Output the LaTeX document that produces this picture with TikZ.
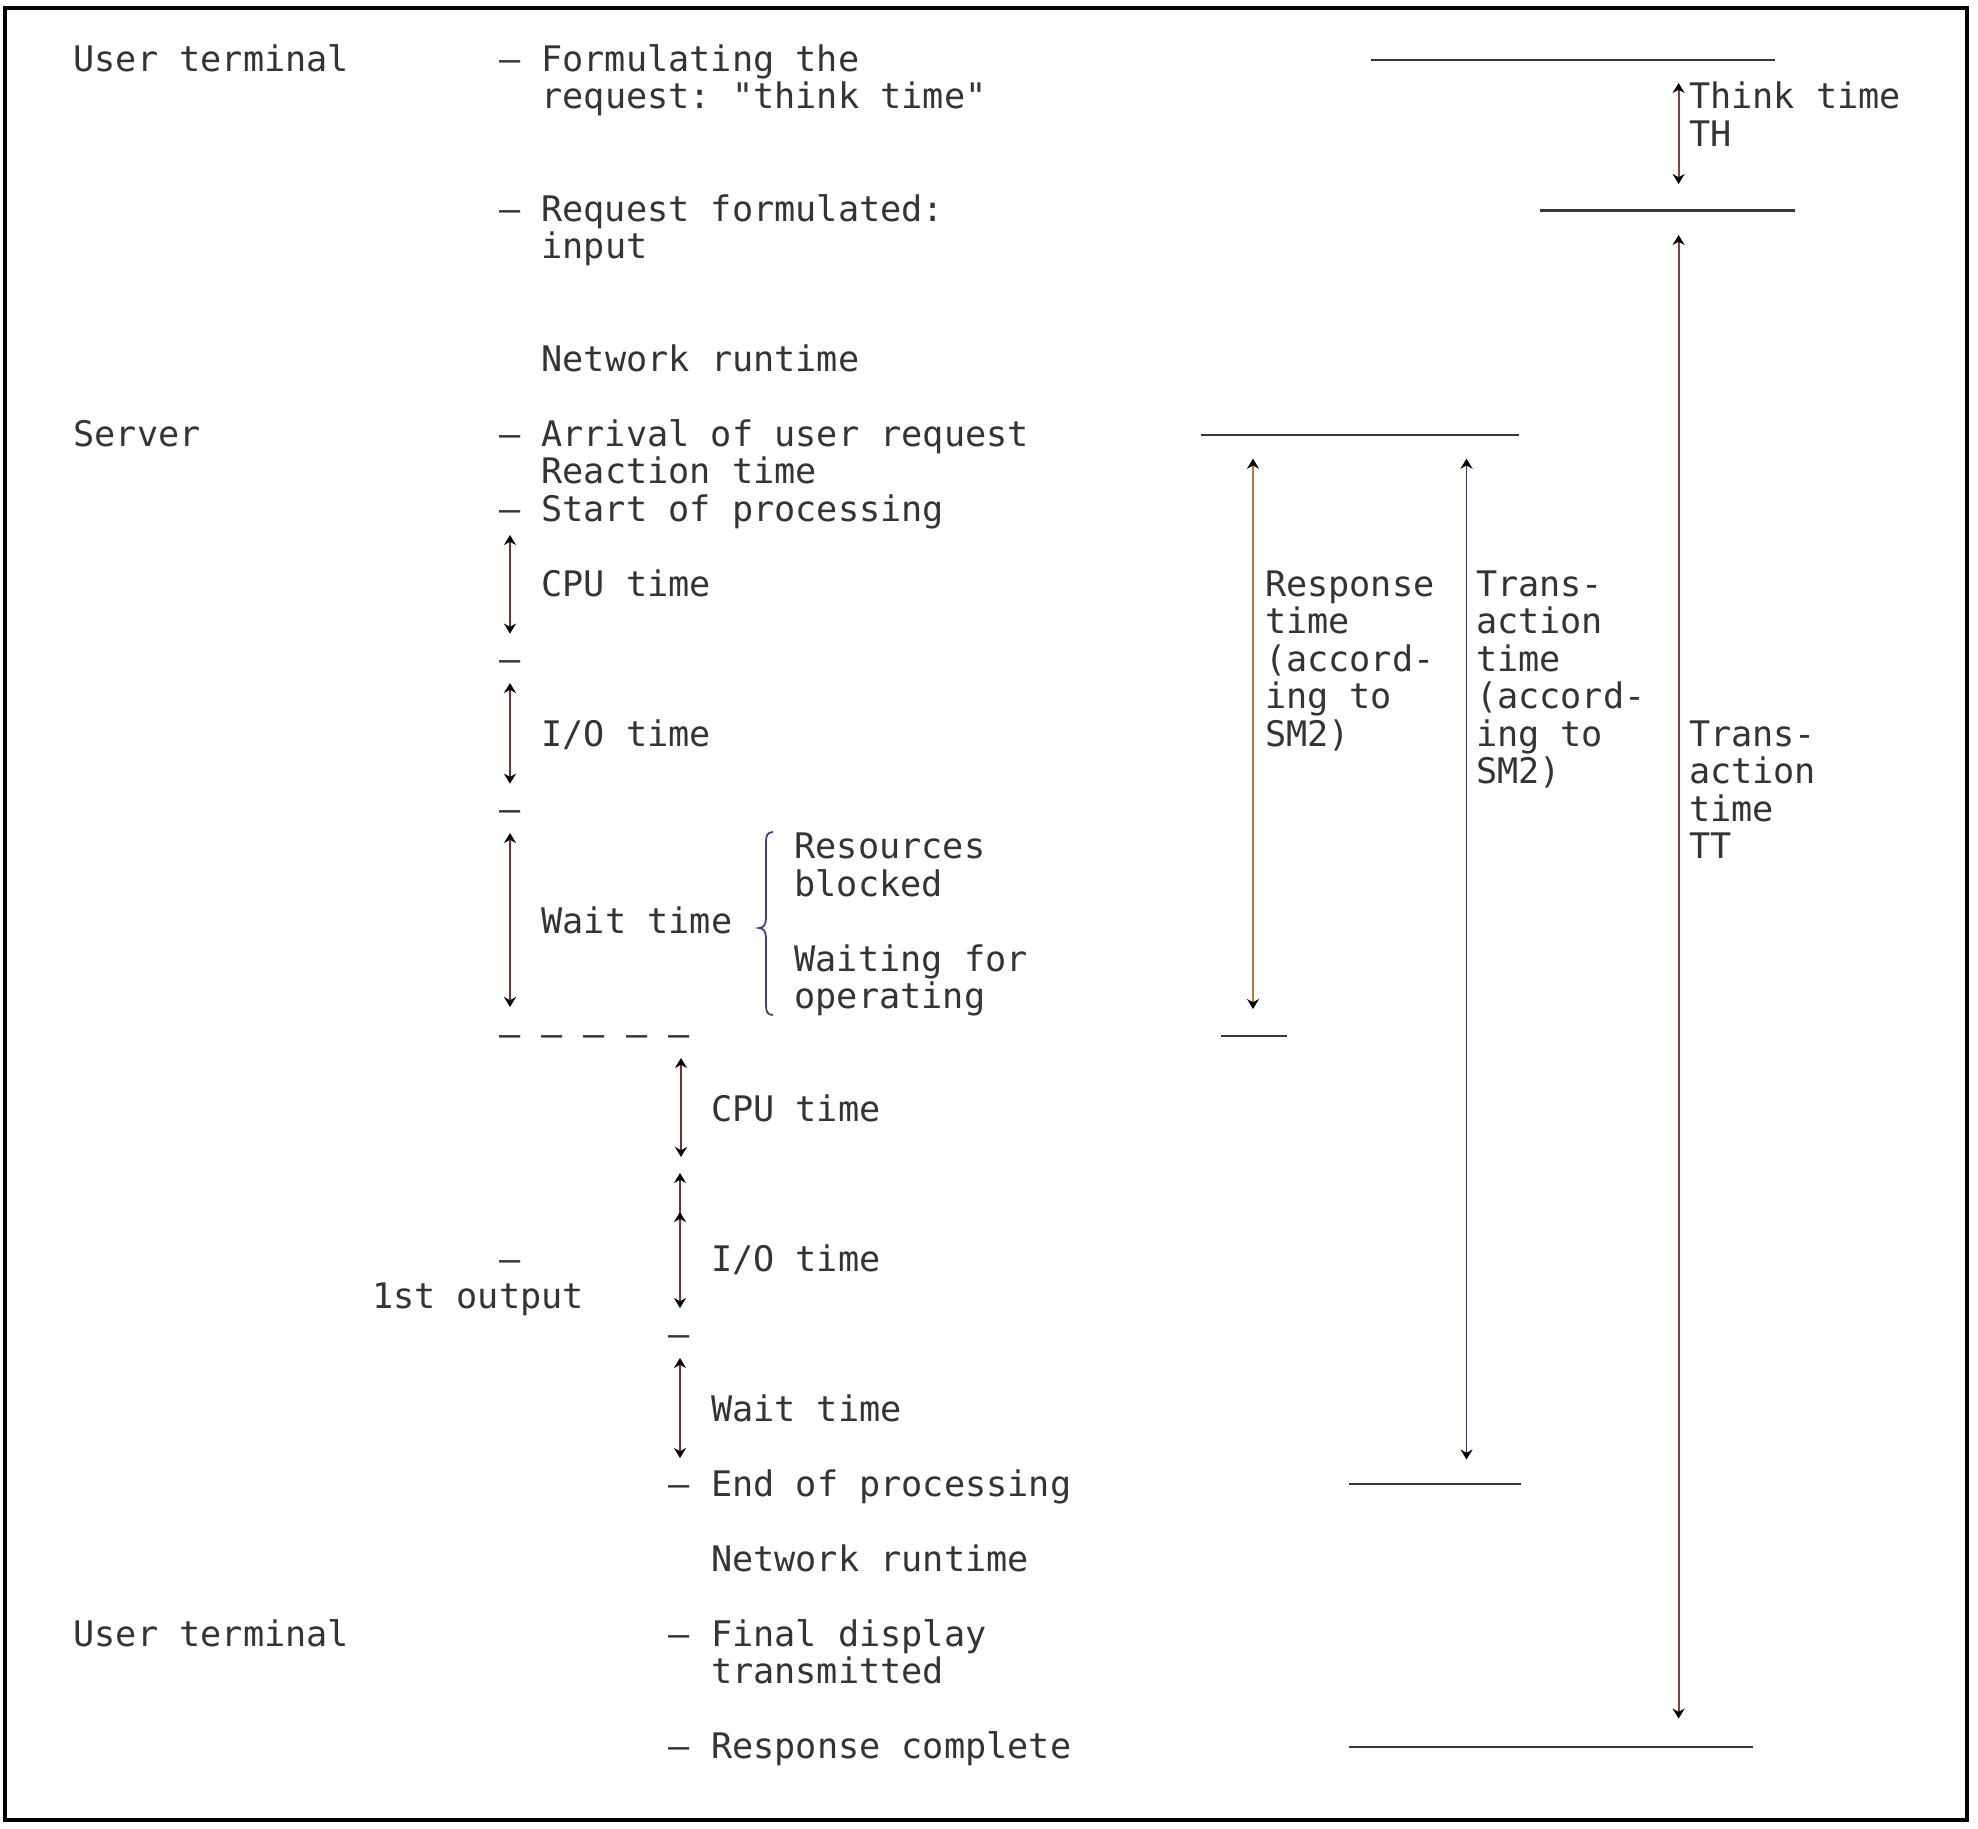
\documentclass[tikz,border=0pt]{standalone}
\usepackage{fontspec}
\setmonofont{DejaVu Sans Mono}
\usetikzlibrary{arrows.meta}
\definecolor{txtc}{RGB}{52,52,52}
\definecolor{leftarr}{RGB}{125,45,45}
\definecolor{resparr}{RGB}{180,120,60}
\definecolor{transarr}{RGB}{55,55,120}
\definecolor{ttarr}{RGB}{145,60,55}
\definecolor{bracec}{RGB}{65,65,130}
\definecolor{hlinec}{RGB}{55,55,55}
\newcommand\rowy[1]{71+37.5*#1}
\begin{document}
\begin{tikzpicture}[x=0.5pt,y=-0.5pt,
  lbl/.style={anchor=base west, inner sep=0pt, outer sep=0pt, text=txtc,
    font=\fontsize{17.6pt}{18.75pt}\selectfont\ttfamily},
  tarr/.style={line width=0.9pt,
    arrows={Stealth[length=5pt,width=6pt,color=black]-Stealth[length=5pt,width=6pt,color=black]}},
  hline/.style={line width=1.4pt, draw=hlinec},
  bracestyle/.style={line width=0.9pt, draw=bracec}]
\useasboundingbox (0,0) rectangle (1978,1828);
\fill[white] (0,0) rectangle (1978,1828);
\draw[line width=2pt] (5,8) rectangle (1967,1820);

% left column texts
\node[lbl] (ut1) at (73.5,{\rowy{0}}) {User terminal};
\node[lbl] (f1) at (499,{\rowy{0}}) {– Formulating the};
\node[lbl] (f2) at (541.5,{\rowy{1}}) {request: "think time"};
\node[lbl] (rf1) at (499,{\rowy{4}}) {– Request formulated:};
\node[lbl] (rf2) at (541.5,{\rowy{5}}) {input};
\node[lbl] (nr1) at (541.5,{\rowy{8}}) {Network runtime};
\node[lbl] (srv) at (73.5,{\rowy{10}}) {Server};
\node[lbl] (arr) at (499,{\rowy{10}}) {– Arrival of user request};
\node[lbl] (react) at (541.5,{\rowy{11}}) {Reaction time};
\node[lbl] (start) at (499,{\rowy{12}}) {– Start of processing};
\node[lbl] (cpu1) at (541.5,{\rowy{14}}) {CPU time};
\node[lbl] (d1) at (499,{\rowy{16}}) {–};
\node[lbl] (io1) at (541.5,{\rowy{18}}) {I/O time};
\node[lbl] (d2) at (499,{\rowy{20}}) {–};
\node[lbl] (wait1) at (541.5,{\rowy{23}}) {Wait time};
\node[lbl] (res1) at (794.5,{\rowy{21}}) {Resources};
\node[lbl] (res2) at (794.5,{\rowy{22}}) {blocked};
\node[lbl] (wop1) at (794.5,{\rowy{24}}) {Waiting for};
\node[lbl] (wop2) at (794.5,{\rowy{25}}) {operating};
\node[lbl] (dl) at (499,{\rowy{26}}) {– – – – –};
\node[lbl] (cpu2) at (711,{\rowy{28}}) {CPU time};
\node[lbl] (d3) at (499,{\rowy{32}}) {–};
\node[lbl] (io2) at (711,{\rowy{32}}) {I/O time};
\node[lbl] (out1) at (372,{\rowy{33}}) {1st output};
\node[lbl] (d4) at (668.7,{\rowy{34}}) {–};
\node[lbl] (wait2) at (711,{\rowy{36}}) {Wait time};
\node[lbl] (endp) at (668.7,{\rowy{38}}) {– End of processing};
\node[lbl] (nr2) at (711,{\rowy{40}}) {Network runtime};
\node[lbl] (ut2) at (73.5,{\rowy{42}}) {User terminal};
\node[lbl] (fd1) at (668.7,{\rowy{42}}) {– Final display};
\node[lbl] (fd2) at (711,{\rowy{43}}) {transmitted};
\node[lbl] (rc) at (668.7,{\rowy{45}}) {– Response complete};

% right column texts
\node[lbl] (th1) at (1689,{\rowy{1}}) {Think time};
\node[lbl] (th2) at (1689,{\rowy{2}}) {TH};
\node[lbl] (rt1) at (1265,{\rowy{14}}) {Response};
\node[lbl] (rt2) at (1265,{\rowy{15}}) {time};
\node[lbl] (rt3) at (1265,{\rowy{16}}) {(accord-};
\node[lbl] (rt4) at (1265,{\rowy{17}}) {ing to};
\node[lbl] (rt5) at (1265,{\rowy{18}}) {SM2)};
\node[lbl] (ta1) at (1476,{\rowy{14}}) {Trans-};
\node[lbl] (ta2) at (1476,{\rowy{15}}) {action};
\node[lbl] (ta3) at (1476,{\rowy{16}}) {time};
\node[lbl] (ta4) at (1476,{\rowy{17}}) {(accord-};
\node[lbl] (ta5) at (1476,{\rowy{18}}) {ing to};
\node[lbl] (ta6) at (1476,{\rowy{19}}) {SM2)};
\node[lbl] (tt1) at (1689,{\rowy{18}}) {Trans-};
\node[lbl] (tt2) at (1689,{\rowy{19}}) {action};
\node[lbl] (tt3) at (1689,{\rowy{20}}) {time};
\node[lbl] (tt4) at (1689,{\rowy{21}}) {TT};

% horizontal marker lines
\coordinate (h1a) at (1371,60);   \coordinate (h1b) at (1775,60);
\coordinate (h2a) at (1539.5,210.5); \coordinate (h2b) at (1795,210.5);
\coordinate (h3a) at (1201,435);  \coordinate (h3b) at (1519,435);
\coordinate (h4a) at (1221,1036); \coordinate (h4b) at (1287,1036);
\coordinate (h5a) at (1349,1484); \coordinate (h5b) at (1521,1484);
\coordinate (h6a) at (1349,1747); \coordinate (h6b) at (1753,1747);
\draw[hline] (h1a) -- (h1b);
\draw[hline] (h2a) -- (h2b);
\draw[hline] (h3a) -- (h3b);
\draw[hline] (h4a) -- (h4b);
\draw[hline] (h5a) -- (h5b);
\draw[hline] (h6a) -- (h6b);

% right arrows
\coordinate (tha) at (1678.6,83);   \coordinate (thb) at (1678.6,184);
\coordinate (tta) at (1678.6,235);  \coordinate (ttb) at (1678.6,1718.6);
\coordinate (rta) at (1253,458.7);  \coordinate (rtb) at (1253,1009);
\coordinate (taa) at (1466.5,458.7); \coordinate (tab) at (1466.5,1459.5);
\draw[tarr, draw=ttarr] (tha) -- (thb);
\draw[tarr, draw=ttarr] (tta) -- (ttb);
\draw[tarr, draw=resparr] (rta) -- (rtb);
\draw[tarr, draw=transarr] (taa) -- (tab);

% left arrows
\coordinate (c1a) at (510,535);  \coordinate (c1b) at (510,633.6);
\coordinate (i1a) at (510,683);  \coordinate (i1b) at (510,783.7);
\coordinate (w1a) at (510,833);  \coordinate (w1b) at (510,1007);
\coordinate (c2a) at (681,1058); \coordinate (c2b) at (681,1157);
\coordinate (i2a) at (680,1173); \coordinate (i2b) at (680,1308);
\coordinate (i2x) at (680,1224); \coordinate (i2y) at (680,1212);
\coordinate (w2a) at (680,1358); \coordinate (w2b) at (680,1458);
\draw[tarr, draw=leftarr] (c1a) -- (c1b);
\draw[tarr, draw=leftarr] (i1a) -- (i1b);
\draw[tarr, draw=leftarr] (w1a) -- (w1b);
\draw[tarr, draw=leftarr] (c2a) -- (c2b);
\draw[tarr, draw=leftarr] (i2a) -- (i2b);
\draw[line width=0.9pt, draw=leftarr, arrows={-Stealth[length=5pt,width=6pt,color=black]}] (i2x) -- (i2y);
\draw[tarr, draw=leftarr] (w2a) -- (w2b);

% brace
\draw[bracestyle] (773,832) .. controls (767,832) and (766,836) .. (766,842) -- (766,918)
  .. controls (766,925) and (763,928) .. (759,928)
  .. controls (763,928) and (766,931) .. (766,938) -- (766,1005)
  .. controls (766,1011) and (767,1015) .. (773,1015);
\end{tikzpicture}
\end{document}
